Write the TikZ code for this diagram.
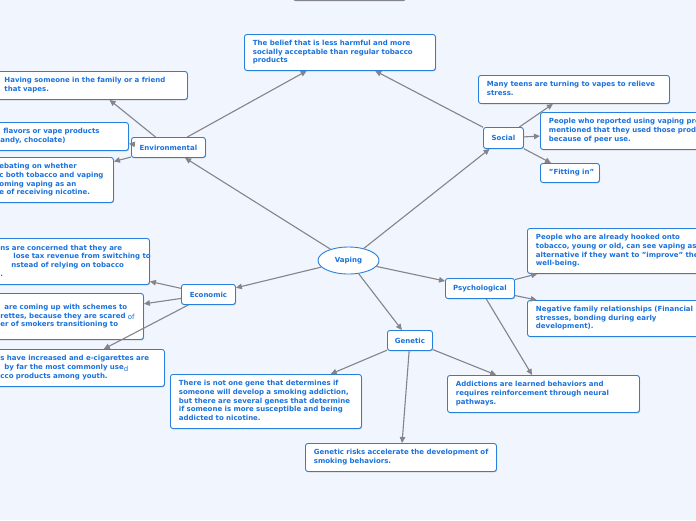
\documentclass[tikz,border=0pt]{standalone}
\usepackage{fontspec}
\setmainfont{DejaVu Sans}
\usetikzlibrary{arrows.meta,shapes.geometric,shadows}
\definecolor{bg}{RGB}{241,245,253}
\definecolor{bord}{RGB}{40,128,222}
\definecolor{tblue}{RGB}{26,114,220}
\definecolor{lgray}{RGB}{132,132,138}
\newcommand\tx[1]{\begin{tabular}{@{}l@{}}#1\end{tabular}}
\newcommand\ofs[1]{\hspace*{#1pt}}
\tikzset{
  basebox/.style={draw=bord, fill=white, line width=0.9pt, rounded corners=2.5pt,
    text=tblue, font=\bfseries\fontsize{7}{8.7}\selectfont, inner sep=0pt,
    anchor=north west,
    drop shadow={shadow xshift=0.6pt, shadow yshift=-0.9pt, opacity=0.3, fill=black!70}},
  bx/.style n args={3}{basebox, minimum width=#1pt, minimum height=#2pt, text width=#3pt, align=left},
  lbl/.style n args={2}{basebox, minimum width=#1pt, minimum height=#2pt, align=center},
  conn/.style={draw=lgray, line width=1.1pt, -{Triangle[length=6pt,width=5.5pt]}}
}
\begin{document}
\begin{tikzpicture}[x=1pt,y=-1pt]
\fill[bg] (0,0) rectangle (696,520);
\useasboundingbox (0,0) rectangle (696,520);
\begin{scope}
\clip (0,0) rectangle (696,520);
% partial box at the top edge
\node[draw=lgray, fill=white, line width=1pt, rounded corners=2.5pt, minimum width=112pt, minimum height=30pt, inner sep=0pt, anchor=south west] (topbox) at (293,1.2) {};

% central node
\node[ellipse, draw=bord, fill=white, line width=0.9pt, minimum width=61pt, minimum height=27pt, inner sep=0pt, text=tblue, font=\bfseries\fontsize{7}{8.7}\selectfont] (vap) at (348.5,260.5) {Vaping};

% categories
\node[lbl={74}{20}] (env) at (131,137) {Environmental};
\node[lbl={40}{21}] (soc) at (483,127) {Social};
\node[lbl={69}{20}] (psy) at (445,278) {Psychological};
\node[lbl={45}{20}] (gen) at (387,330) {Genetic};
\node[lbl={54}{20}] (eco) at (181,284) {Economic};

% environmental leaves
\node[bx={191}{36}{174}] (belief) at (244,34) {\tx{The belief that is less harmful and more\\socially acceptable than regular tobacco\\products}};
\node[bx={191.5}{28}{174.5}] (having) at (-4.5,71) {\tx{Having someone in the family or a friend\\that vapes.}};
\node[bx={158}{28}{141}] (flav) at (-30,122) {\tx{\ofs{24.5}flavors or vape products\\\ofs{21.5}andy, chocolate)}};
\node[bx={143}{45}{126}] (deb) at (-30,157) {\tx{\ofs{20.5}ebating on whether\\\ofs{20.5}c both tobacco and vaping\\\ofs{20.5}oming vaping as an\\\ofs{20.5}e of receiving nicotine.}};

% social leaves
\node[bx={191}{28}{174}] (teens) at (478,75) {\tx{Many teens are turning to vapes to relieve\\stress.}};
\node[bx={200}{37}{183}] (peer) at (540,112) {\tx{People who reported using vaping pro\\mentioned that they used those prod\\because of peer use.}};
\node[bx={59}{19}{42}] (fit) at (540,163) {\tx{"Fitting in"}};

% psychological leaves
\node[bx={200}{45}{183}] (hook) at (527,228) {\tx{People who are already hooked onto\\tobacco, young or old, can see vaping as\\alternative if they want to "improve" the\\well-being.}};
\node[bx={200}{36}{183}] (fam) at (527,300) {\tx{Negative family relationships (Financial\\stresses, bonding during early\\development).}};
\node[bx={192}{37}{175}] (learn) at (447,375) {\tx{Addictions are learned behaviors and\\requires reinforcement through neural\\pathways.}};

% genetic leaves
\node[bx={191}{54}{174}] (gene) at (170,374) {\tx{There is not one gene that determines if\\someone will develop a smoking addiction,\\but there are several genes that determine\\if someone is more susceptible and being\\addicted to nicotine.}};
\node[bx={191}{28}{174}] (risk) at (305,443) {\tx{Genetic risks accelerate the development of\\smoking behaviors.}};

% economic leaves
\node[bx={179}{46}{162}] (tax) at (-30,238) {\tx{\ofs{21.5}ns are concerned that they are\\\ofs{34.5}lose tax revenue from switching to\\\ofs{32.5}nstead of relying on tobacco\\\ofs{21.5}.}};
\node[bx={173}{46}{156}] (sch) at (-30,293) {\tx{\ofs{25.5}are coming up with schemes to\\\ofs{21.5}rettes, because they are scared \raisebox{-1.6pt}{\mdseries of}\\\ofs{21.5}er of smokers transitioning to}};
\node[bx={194}{37}{177}] (inc) at (-30,349) {\tx{\ofs{21.5}s have increased and e-cigarettes are\\\ofs{25.5}by far the most commonly use\raisebox{-1.6pt}{\mdseries d}\\\ofs{21.5}cco products among youth.}};

% connectors
\draw[conn] (vap) -- (env);
\draw[conn] (vap) -- (soc);
\draw[conn] (vap) -- (eco);
\draw[conn] (vap) -- (psy);
\draw[conn] (vap) -- (gen);
\draw[conn] (env) -- (belief);
\draw[conn] (env) -- (having);
\draw[conn] (env) -- (flav);
\draw[conn] (env) -- (deb);
\draw[conn] (soc) -- (belief);
\draw[conn] (soc) -- (teens);
\draw[conn] (soc) -- (peer);
\draw[conn] (soc) -- (fit);
\draw[conn] (eco) -- (tax);
\draw[conn] (eco) -- (sch);
\draw[conn] (eco) -- (inc);
\draw[conn] (psy) -- (hook);
\draw[conn] (psy) -- (fam);
\draw[conn] (psy) -- (learn);
\draw[conn] (gen) -- (gene);
\draw[conn] (gen) -- (risk);
\draw[conn] (gen) -- (learn);
\end{scope}
\end{tikzpicture}
\end{document}
